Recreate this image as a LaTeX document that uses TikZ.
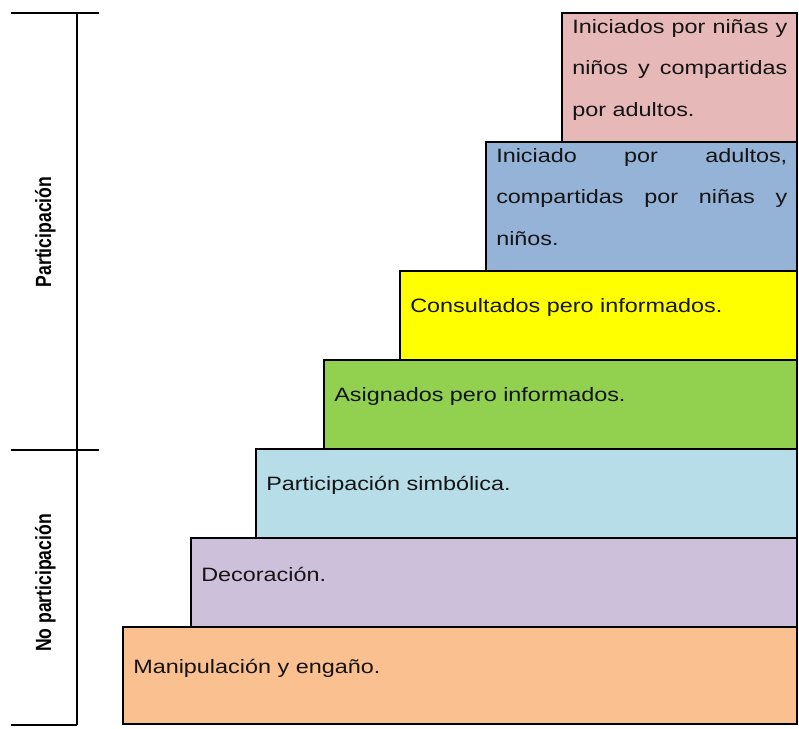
\documentclass[tikz,border=0pt]{standalone}
\usepackage{fontspec}
\setmainfont{Liberation Sans}
\newfontfamily\stepfont[FakeStretch=1.21]{Liberation Sans}
\newfontfamily\sidefont[FakeStretch=0.8]{Liberation Sans}

\definecolor{cPink}{HTML}{E6B8B7}
\definecolor{cBlue}{HTML}{95B3D7}
\definecolor{cYellow}{HTML}{FFFF00}
\definecolor{cGreen}{HTML}{92D050}
\definecolor{cCyan}{HTML}{B7DEE8}
\definecolor{cLilac}{HTML}{CCC0DA}
\definecolor{cPeach}{HTML}{FAC090}
\definecolor{ink}{HTML}{141414}

\begin{document}
\begin{tikzpicture}[x=0.75pt,y=-0.75pt,
  stair/.style={draw=black, line width=0.9pt},
  lbl/.style={anchor=base west, inner sep=0pt, text=ink,
    font=\stepfont\fontsize{14.5}{17}\selectfont},
  side/.style={rotate=90, anchor=base, inner sep=0pt, text=black,
    font=\sidefont\bfseries\fontsize{16.5}{19}\selectfont},
  axis/.style={draw=black, line width=1.5pt}]
\useasboundingbox (0,0) rectangle (799,728);

% steps of the ladder, from the top rung down
\draw[stair, fill=cPink]   (562,13)  rectangle (797,142);
\draw[stair, fill=cBlue]   (486,142) rectangle (797,271);
\draw[stair, fill=cYellow] (400,271) rectangle (797,360);
\draw[stair, fill=cGreen]  (324,360) rectangle (797,449);
\draw[stair, fill=cCyan]   (256,449) rectangle (797,538);
\draw[stair, fill=cLilac]  (191,538) rectangle (797,627);
\draw[stair, fill=cPeach]  (123,627) rectangle (797,724);

% step texts (justified lines stretched to the text width)
\node[lbl] (p1) at (572,33)  {\makebox[161.25pt][s]{Iniciados por niñas y}};
\node[lbl] (p2) at (572,74)  {\makebox[161.25pt][s]{niños y compartidas}};
\node[lbl] (p3) at (572,116) {por adultos.};
\node[lbl] (b1) at (496,162) {\makebox[218.25pt][s]{Iniciado por adultos,}};
\node[lbl] (b2) at (496,203) {\makebox[218.25pt][s]{compartidas por niñas y}};
\node[lbl] (b3) at (496,245) {niños.};
\node[lbl] (s5) at (410,312) {Consultados pero informados.};
\node[lbl] (s4) at (334,401) {Asignados pero informados.};
\node[lbl] (s3) at (266,490) {Participación simbólica.};
\node[lbl] (s2) at (201,581) {Decoración.};
\node[lbl] (s1) at (133,673) {Manipulación y engaño.};

% side scale
\coordinate (topL) at (11,13);
\coordinate (topR) at (99,13);
\coordinate (midL) at (11,450);
\coordinate (midR) at (99,450);
\coordinate (botL) at (11,725);
\coordinate (axTop) at (77,13);
\coordinate (axBot) at (77,725);
\draw[axis] (axTop) -- (axBot);
\draw[axis] (topL) -- (topR);
\draw[axis] (midL) -- (midR);
\draw[axis] (botL) -- (axBot);

\node[side] (part) at (51,232) {Participación};
\node[side] (nopart) at (51,583) {No participación};
\end{tikzpicture}
\end{document}
